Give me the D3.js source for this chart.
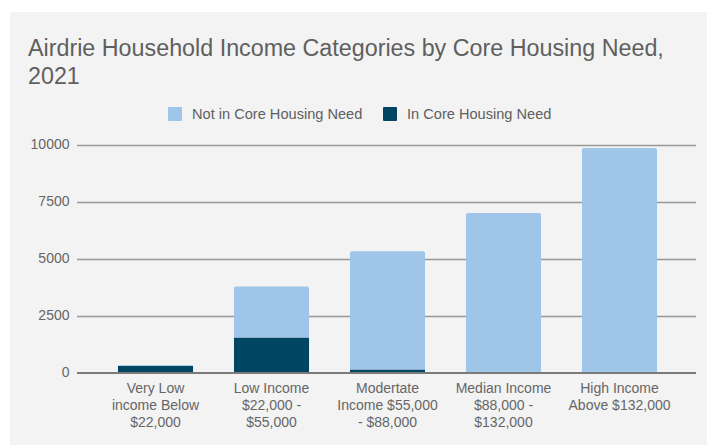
<!DOCTYPE html>
<html>
<head>
<meta charset="utf-8">
<script src="https://cdn.jsdelivr.net/npm/d3@7"></script>
<style>
  html, body { margin: 0; padding: 0; background: #ffffff; }
  svg { display: block; font-family: "Liberation Sans", Arial, sans-serif; }
</style>
</head>
<body>
<svg id="chart" width="707" height="445"></svg>
<script>
// Income categories (each label split into its display lines)
const categories = [
  ["Very Low", "income Below", "$22,000"],
  ["Low Income", "$22,000 -", "$55,000"],
  ["Modertate", "Income $55,000", "- $88,000"],
  ["Median Income", "$88,000 -", "$132,000"],
  ["High Income", "Above $132,000"]
];
// Households per category
const inCoreNeed    = [280, 1530, 130, 0, 0];
const notInCoreNeed = [40, 2240, 5190, 7000, 9850];
const yTicks = [0, 2500, 5000, 7500, 10000];
const seriesNames = ["Not in Core Housing Need", "In Core Housing Need"];
const seriesColors = ["#9fc5e8", "#004561"];

const svg = d3.select("#chart");

// panel background
svg.append("rect").attr("x", 10).attr("y", 12).attr("width", 697).attr("height", 433).attr("fill", "#f3f3f3");

// title
const title = svg.append("text").attr("fill", "#5f5f5f").attr("font-size", 23.3);
title.append("tspan").attr("x", 28).attr("y", 56).text("Airdrie Household Income Categories by Core Housing Need,");
title.append("tspan").attr("x", 28).attr("y", 84).text("2021");

// legend
const legendItems = [
  { name: seriesNames[0], color: seriesColors[0], x: 168 },
  { name: seriesNames[1], color: seriesColors[1], x: 383 }
];
const lg = svg.append("g").selectAll("g").data(legendItems).join("g")
  .attr("transform", d => `translate(${d.x},107)`);
lg.append("rect").attr("width", 14).attr("height", 14).attr("rx", 1).attr("fill", d => d.color);
lg.append("text").attr("x", 24).attr("y", 12.2).attr("font-size", 14.6).attr("fill", "#5f5f5f").text(d => d.name);

// scales
const x = d3.scaleBand().domain(d3.range(categories.length)).range([97.5, 677.5]).paddingInner(0.353).paddingOuter(0.1765);
const y = d3.scaleLinear().domain([0, 10000]).range([372.5, 144.5]);

// gridlines
svg.append("g").selectAll("line").data(yTicks.filter(t => t > 0)).join("line")
  .attr("x1", 77).attr("x2", 696)
  .attr("y1", d => Math.round(y(d)) + 0.5).attr("y2", d => Math.round(y(d)) + 0.5)
  .attr("stroke", "#999999").attr("stroke-width", 1.3);

// y axis labels
const yAxis = svg.append("g").attr("transform", "translate(69.5,0)")
  .call(d3.axisLeft(y).tickValues(yTicks).tickSize(0).tickPadding(0).tickFormat(d3.format("d")));
yAxis.select(".domain").remove();
yAxis.selectAll("text").attr("font-size", 14).attr("fill", "#666666").attr("font-family", "Liberation Sans, Arial, sans-serif");

// stacked bars
const stackData = categories.map((c, i) => ({ i, inNeed: inCoreNeed[i], notIn: notInCoreNeed[i] }));
const stacks = d3.stack().keys(["inNeed", "notIn"])(stackData);
const colorFor = { inNeed: seriesColors[1], notIn: seriesColors[0] };

svg.append("g").selectAll("g").data(stacks).join("g")
  .attr("fill", s => colorFor[s.key])
  .selectAll("path").data(s => s.map(d => ({ d, top: s.key === "notIn" }))).join("path")
  .attr("d", ({ d, top }) => {
    const x0 = x(d.data.i), w = x.bandwidth();
    const y0 = y(d[0]), y1 = y(d[1]);
    if (y0 - y1 <= 0) return "";
    const r = top ? Math.min(2, (y0 - y1) / 2) : 0;
    return `M${x0},${y0}V${y1 + r}Q${x0},${y1} ${x0 + r},${y1}H${x0 + w - r}Q${x0 + w},${y1} ${x0 + w},${y1 + r}V${y0}Z`;
  });

// baseline
svg.append("line").attr("x1", 77).attr("x2", 696).attr("y1", y(0) + 0.5).attr("y2", y(0) + 0.5)
  .attr("stroke", "#7a7a7a").attr("stroke-width", 2);

// x axis labels
const xl = svg.append("g").selectAll("text").data(categories).join("text")
  .attr("text-anchor", "middle").attr("font-size", 14).attr("fill", "#666666")
  .attr("transform", (d, i) => `translate(${x(i) + x.bandwidth() / 2},0)`);
xl.selectAll("tspan").data(d => d).join("tspan")
  .attr("x", 0).attr("y", (d, j) => 393 + j * 17).text(d => d);
</script>
</body>
</html>
